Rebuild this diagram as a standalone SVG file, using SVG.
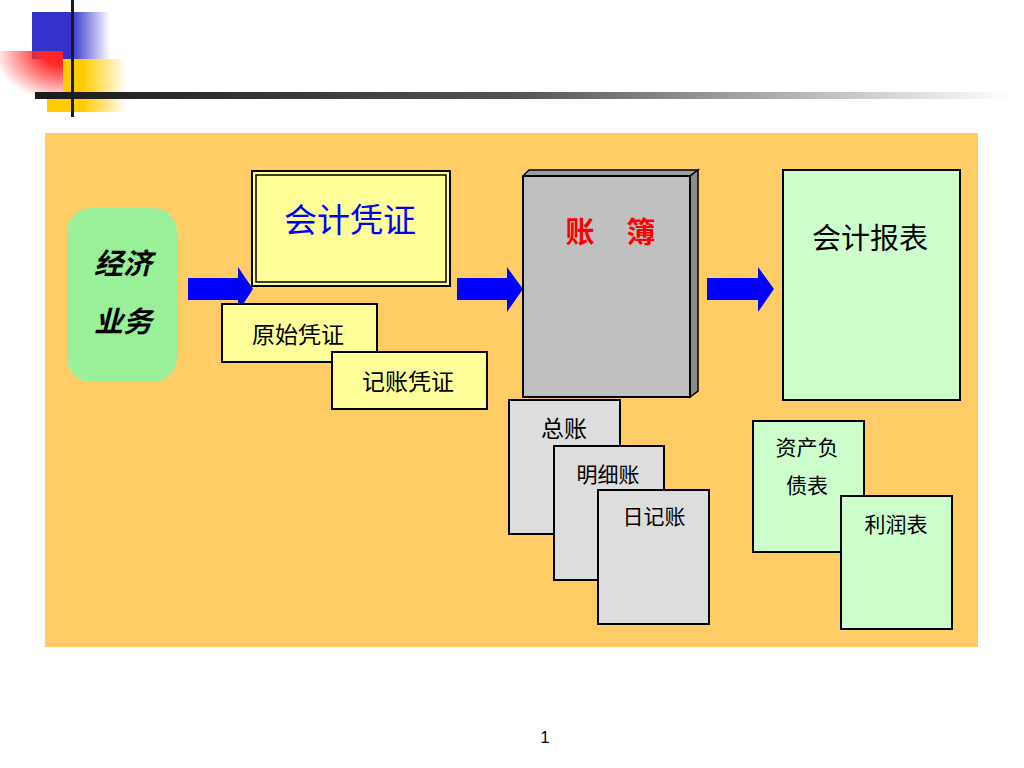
<svg xmlns="http://www.w3.org/2000/svg" width="1024" height="768" viewBox="0 0 1024 768">
<defs>
<linearGradient id="gBlue" x1="0" y1="0" x2="1" y2="0">
<stop offset="0" stop-color="#3333CC"/><stop offset="0.5" stop-color="#3333CC"/><stop offset="1" stop-color="#3333CC" stop-opacity="0"/>
</linearGradient>
<linearGradient id="gYellow" x1="47" y1="0" x2="127" y2="0" gradientUnits="userSpaceOnUse">
<stop offset="0" stop-color="#FFCC00"/><stop offset="0.45" stop-color="#FFCC00"/><stop offset="1" stop-color="#FFCC00" stop-opacity="0"/>
</linearGradient>
<radialGradient id="gRed" cx="1" cy="0" r="1.1" gradientUnits="objectBoundingBox">
<stop offset="0" stop-color="#FF2222"/><stop offset="0.3" stop-color="#FF2A2A"/><stop offset="1" stop-color="#FF2222" stop-opacity="0"/>
</radialGradient>
<linearGradient id="gLine" x1="0" y1="0" x2="1" y2="0">
<stop offset="0" stop-color="#1a1a1a"/><stop offset="0.5" stop-color="#555"/><stop offset="1" stop-color="#fff"/>
</linearGradient>
</defs>
<style>
.cjk{font-family:"Noto Sans CJK SC","Noto Sans CJK TC",sans-serif;}
.box{stroke:#000;stroke-width:2;}
.lab{font-size:21px;fill:#000;text-anchor:middle;}
.lab2{font-size:23px;fill:#000;text-anchor:middle;}
.arr{fill:#0000FF;}
</style>
<rect width="1024" height="768" fill="#fff"/>
<g id="header">
<rect x="32" y="12" width="78" height="47" fill="url(#gBlue)"/>
<rect x="63" y="59" width="64" height="53" fill="url(#gYellow)"/>
<rect x="47" y="97" width="16" height="15" fill="#FFCC00"/>
<rect x="0" y="51" width="63" height="46" fill="url(#gRed)"/>
<rect x="35" y="92" width="975" height="7" fill="url(#gLine)"/>
<rect x="71" y="0" width="3" height="117" fill="#1a1a1a"/>
</g>
<rect id="panel" x="45" y="133" width="933" height="514" fill="#FFCC66"/>
<g id="connectors">
<polygon class="arr" points="188,278 238,278 238,267 253,289 238,312 238,300 188,300"/>
<polygon class="arr" points="457,278 507,278 507,267 523,289 507,312 507,300 457,300"/>
<polygon class="arr" points="707,278 758,278 758,267 774,289 758,312 758,300 707,300"/>
</g>
<g id="n-jingji">
<rect x="67" y="208" width="110" height="174" rx="24" fill="#99F099"/>
<text class="cjk" x="123" y="274" font-size="29" font-weight="bold" font-style="italic" text-anchor="middle">经济</text>
<text class="cjk" x="123" y="332" font-size="29" font-weight="bold" font-style="italic" text-anchor="middle">业务</text>
</g>
<g id="n-pingzheng">
<rect x="252" y="171" width="198" height="115" fill="#FFFF99" stroke="#000" stroke-width="2"/>
<rect x="256" y="175" width="190" height="107" fill="none" stroke="#000" stroke-width="1.5"/>
<text class="cjk" x="350" y="232" font-size="33" fill="#0000FF" text-anchor="middle">会计凭证</text>
</g>
<g id="n-yuanshi">
<rect class="box" x="222" y="304" width="155" height="58" fill="#FFFF99"/>
<text class="cjk lab2" x="298" y="343">原始凭证</text>
</g>
<g id="n-jizhang">
<rect class="box" x="332" y="352" width="155" height="57" fill="#FFFF99"/>
<text class="cjk lab2" x="408" y="390">记账凭证</text>
</g>
<g id="n-zhangbu">
<polygon points="523,176 529,170 698,170 690,176" fill="#A0A0A0" stroke="#000" stroke-width="1.5"/>
<polygon points="690,176 698,170 698,391 690,397" fill="#8C8C8C" stroke="#000" stroke-width="1.5"/>
<rect x="523" y="176" width="167" height="221" fill="#C0C0C0" stroke="#000" stroke-width="2"/>
<text class="cjk" x="580" y="243" font-size="29" font-weight="bold" fill="#FF0000" text-anchor="middle">账</text>
<text class="cjk" x="641" y="243" font-size="29" font-weight="bold" fill="#FF0000" text-anchor="middle">簿</text>
</g>
<g id="n-baobiao">
<rect class="box" x="783" y="170" width="177" height="230" fill="#CCFFCC"/>
<text class="cjk" x="870" y="249" font-size="29" fill="#000" text-anchor="middle">会计报表</text>
</g>
<g id="n-zongzhang">
<rect class="box" x="509" y="400" width="111" height="134" fill="#DDDDDD"/>
<text class="cjk lab2" x="564" y="437">总账</text>
</g>
<g id="n-mingxi">
<rect class="box" x="554" y="446" width="110" height="134" fill="#DDDDDD"/>
<text class="cjk lab" x="608" y="482">明细账</text>
</g>
<g id="n-riji">
<rect class="box" x="598" y="490" width="111" height="134" fill="#DDDDDD"/>
<text class="cjk lab" x="654" y="524">日记账</text>
</g>
<g id="n-zichan">
<rect class="box" x="753" y="421" width="111" height="131" fill="#CCFFCC"/>
<text class="cjk lab" x="807" y="455">资产负</text>
<text class="cjk lab" x="807" y="493">债表</text>
</g>
<g id="n-lirun">
<rect class="box" x="841" y="496" width="111" height="133" fill="#CCFFCC"/>
<text class="cjk lab" x="896" y="532">利润表</text>
</g>
<text x="545" y="743" font-family="Liberation Sans, sans-serif" font-size="16" text-anchor="middle" fill="#000">1</text>
</svg>
